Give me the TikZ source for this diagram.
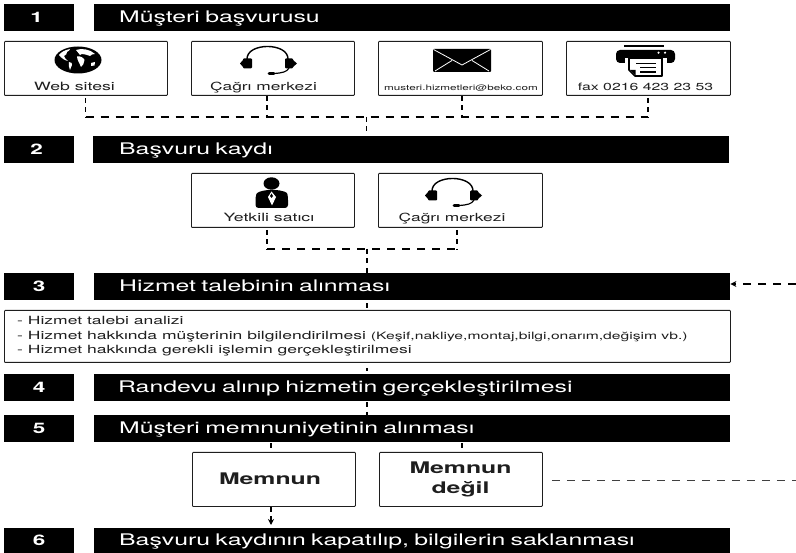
\documentclass[tikz,border=0pt]{standalone}
\usepackage{fontspec}
\setmainfont[FakeStretch=1.55]{TeX Gyre Heros}
\usetikzlibrary{arrows.meta}
\definecolor{ink}{HTML}{1E1E1E}
\tikzset{
 x=1pt,y=-1pt,
 band/.style={fill=black,draw=none,inner sep=0pt,anchor=north west,minimum height=27pt,text=white,text height=13pt,text depth=3pt},
 numbox/.style={band,minimum width=70pt,font=\bfseries\fontsize{14.5}{14.5}\selectfont},
 titlebox/.style={band,minimum width=636pt,align=left,text width=636pt,font=\fontsize{16}{16}\selectfont},
 card/.style={draw=ink,line width=0.9pt,rounded corners=0.8pt,fill=white,inner sep=0pt,anchor=north west,minimum width=163pt,minimum height=54pt},
 cardlabel/.style={text=ink,inner sep=0pt,anchor=base,font=\fontsize{11.4}{11.4}\selectfont},
 hlink/.style={draw=black,line width=1.1pt,dash pattern=on 8pt off 7pt},
 vlink/.style={draw=black,line width=1.4pt,dash pattern=on 5pt off 4.5pt},
 verdict/.style={text=ink,align=center,font=\bfseries\fontsize{16}{19.5}\selectfont},
 tip/.style={-{Stealth[length=6pt,width=6pt]}},
}
\newcommand{\headsetat}[2]{\begin{scope}[shift={(#1,#2)}]
 \draw[black,line width=1.4pt] (-21,14) .. controls (-21,-2.7) and (20,-2.7) .. (20,14);
 \fill[black,rounded corners=1pt] (-25,13.5) rectangle (-16,23.5);
 \fill[black,rounded corners=1pt] (17,13.5) rectangle (25,23.5);
 \fill[black] (-25,15) -- (-28,18.5) -- (-25,22) -- cycle;
 \fill[black] (25,15) -- (29,18.5) -- (25,22) -- cycle;
 \draw[black,line width=1.2pt] (21,23) .. controls (19,27) and (14,28) .. (6,28.5);
 \draw[black,line width=2.6pt,line cap=round] (1,28.7) -- (6,28.7);
\end{scope}}
\begin{document}
\begin{tikzpicture}
\useasboundingbox (0,0) rectangle (796,553);
% bands
\node[numbox] (n1) at (4,4) {\hspace*{-5pt}1};
\node[titlebox] (t1) at (94,4) {\hspace*{25pt}Müşteri başvurusu};
\node[numbox] (n2) at (4,136) {\hspace*{-5pt}2};
\node[titlebox] (t2) at (93,136) {\hspace*{26pt}Başvuru kaydı};
\node[numbox] (n3) at (4,273) {3};
\node[titlebox] (t3) at (94,273) {\hspace*{25pt}Hizmet talebinin alınması};
\node[numbox] (n4) at (4,374) {4};
\node[titlebox] (t4) at (94,374) {\hspace*{24pt}Randevu alınıp hizmetin gerçekleştirilmesi};
\node[numbox] (n5) at (4,415) {5};
\node[titlebox] (t5) at (94,415) {\hspace*{25pt}Müşteri memnuniyetinin alınması};
\node[numbox,minimum height=25pt] (n6) at (4,528) {6};
\node[titlebox,minimum height=25pt] (t6) at (94,528) {\hspace*{25pt}Başvuru kaydının kapatılıp, bilgilerin saklanması};
% cards
\node[card] (web) at (4,41) {};
\node[card] (call) at (191,41) {};
\node[card,minimum width=164pt] (mail) at (378,41) {};
\node[card,minimum width=164pt] (fax) at (566,41) {};
\node[card] (dealer) at (191,173) {};
\node[card,minimum width=164pt] (call2) at (378,173) {};
\node[card,minimum width=726pt,minimum height=52pt] (info) at (4,310) {};
\node[card] (happy) at (192,452) {};
\node[card] (unhappy) at (379,452) {};
% card labels
\node[cardlabel] (lweb) at (74.5,90.5) {Web sitesi};
\node[cardlabel,font=\fontsize{11.2}{11.2}\selectfont] (lcall) at (263.5,90.5) {Çağrı merkezi};
\node[cardlabel,font=\fontsize{7.55}{7.55}\selectfont] (lmail) at (461,90.5) {musteri.hizmetleri@beko.com};
\node[cardlabel,font=\fontsize{10.2}{10.2}\selectfont] (lfax) at (645.5,90.5) {fax 0216 423 23 53};
\node[cardlabel] (ldealer) at (269,222) {Yetkili satıcı};
\node[cardlabel,font=\fontsize{11.2}{11.2}\selectfont] (lcall2) at (452,222) {Çağrı merkezi};
\node[text=ink,inner sep=0pt,anchor=north west,align=left,font=\fontsize{11.3}{14.3}\selectfont] (linfo) at (17,316.5)
 {- Hizmet talebi analizi\\- Hizmet hakkında müşterinin bilgilendirilmesi {\fontsize{10.1}{10.1}\selectfont (Keşif,nakliye,montaj,bilgi,onarım,değişim vb.)}\\- Hizmet hakkında gerekli işlemin gerçekleştirilmesi};
\node[verdict] (lhappy) at (270,478.5) {Memnun};
\node[verdict] (lunhappy) at (460.5,479.5) {Memnun\\değil};
% globe
\fill[black] (78,60) ellipse (23.5 and 13.5);
\fill[white] (59,55) .. controls (61,52) and (65,50) .. (70,49) .. controls (71,50) and (68,51) .. (67,52) .. controls (68,54) and (65,55) .. (64,56) .. controls (64,58) and (66,59) .. (68,61) .. controls (65,60.5) and (61,58) .. (59,55) -- cycle;
\fill[white] (69,62) .. controls (71,62) and (73,63.5) .. (72,65) -- (70,70) .. controls (69,68) and (68.5,65) .. (69,62) -- cycle;
\fill[white] (76,50) .. controls (81,48) and (90,49) .. (95,54) .. controls (93,54) and (91,54.5) .. (90,56) .. controls (87,55) and (85,54) .. (82,54) -- (80,55) .. controls (79,53) and (77,52) .. (76,50) -- cycle;
\fill[white] (77,56.5) .. controls (80,55.5) and (84,58) .. (84.5,60) .. controls (84,63) and (83,66) .. (81,67) .. controls (80,64) and (77,60) .. (77,56.5) -- cycle;
\fill[white] (91,63) -- (95,62) -- (94.5,65.5) -- (91,66) -- cycle;
% headsets
\headsetat{268}{45}
\headsetat{453}{177}
% envelope
\fill[black,rounded corners=1pt] (433,49) rectangle (491,72);
\draw[white,line width=0.8pt] (433.5,49.5) -- (462,65) -- (490.5,49.5);
\draw[white,line width=0.8pt] (435,71) -- (452,60.5) (489,71) -- (472,60.5);
% printer
\fill[black] (624,45.5) rectangle (664,47.5);
\fill[black,rounded corners=4pt] (616,50) rectangle (675,63);
\fill[white] (658.5,52.7) circle (1.2) (665,52.7) circle (1.2);
\fill[white] (625,58) rectangle (667,64);
\draw[black,line width=1.6pt,fill=white,line join=round] (629,58) -- (662,58) -- (662,76) -- (635,76) -- (629,70) -- cycle;
\draw[black,line width=1.4pt] (636,63.5) -- (656,63.5) (640,67.8) -- (656,67.8) (640,72) -- (656,72);
\fill[black] (630,70) -- (635.5,70) -- (635.5,75.5) -- cycle;
% person
\fill[black] (271.5,183.5) ellipse (8 and 6.2);
\fill[black,rounded corners=3pt] (255.5,208) -- (255.5,197) .. controls (257,192) and (262,191) .. (267,190) -- (277,190) .. controls (283,191) and (287,192) .. (288,197) -- (288,208) -- cycle;
\fill[white] (271.5,191.5) -- (276,197) -- (272,205.5) -- (268,197) -- cycle;
\fill[black] (271.5,193.5) -- (273,196) -- (271.5,198) -- (270,196) -- cycle;
% connectors
\coordinate (b1) at (85.5,117);
\coordinate (b2) at (267,117);
\coordinate (b3) at (462,117);
\coordinate (b4) at (648,117);
\coordinate (j1) at (366.5,117);
\draw[hlink] (b1) -- (b4);
\draw[vlink,shorten <=2pt] (web.south -| b1) -- (b1);
\draw[vlink] (call.south -| b2) -- (b2);
\draw[vlink] (mail.south -| b3) -- (b3);
\draw[vlink,shorten <=2pt] (fax.south -| b4) -- (b4);
\draw[vlink] (j1) -- (t2.north -| j1);
\coordinate (c1) at (267,249);
\coordinate (c2) at (457,249);
\coordinate (j2) at (367,249);
\draw[hlink] (c1) -- (c2);
\draw[vlink,shorten <=2pt] (dealer.south -| c1) -- (c1);
\draw[vlink,shorten <=2pt] (call2.south -| c2) -- (c2);
\draw[vlink] (j2) -- (t3.north -| j2);
\draw[vlink,shorten <=3pt,shorten >=2pt] (t3.south -| j2) -- (info.north -| j2);
\draw[vlink,shorten <=5pt,shorten >=3pt] (info.south -| j2) -- (t4.north -| j2);
\draw[vlink,shorten <=1pt] (t4.south -| j2) -- (t5.north -| j2);
\coordinate (d1) at (271,442);
\coordinate (d2) at (462,442);
\draw[vlink,shorten <=1pt,shorten >=3pt] (t5.south -| d1) -- (happy.north -| d1);
\draw[vlink,shorten <=1pt,shorten >=3pt] (t5.south -| d2) -- (unhappy.north -| d2);
\draw[vlink,tip,shorten >=3pt] (happy.south -| d1) -- (t6.north -| d1);
\coordinate (e1) at (796,480.5);
\coordinate (e2) at (796,284);
\draw[hlink,draw=ink!85,line width=1pt,shorten <=9pt] (unhappy.east |- e1) -- (e1);
\draw[hlink,tip] (e2) -- (t3.east |- e2);
\end{tikzpicture}
\end{document}
